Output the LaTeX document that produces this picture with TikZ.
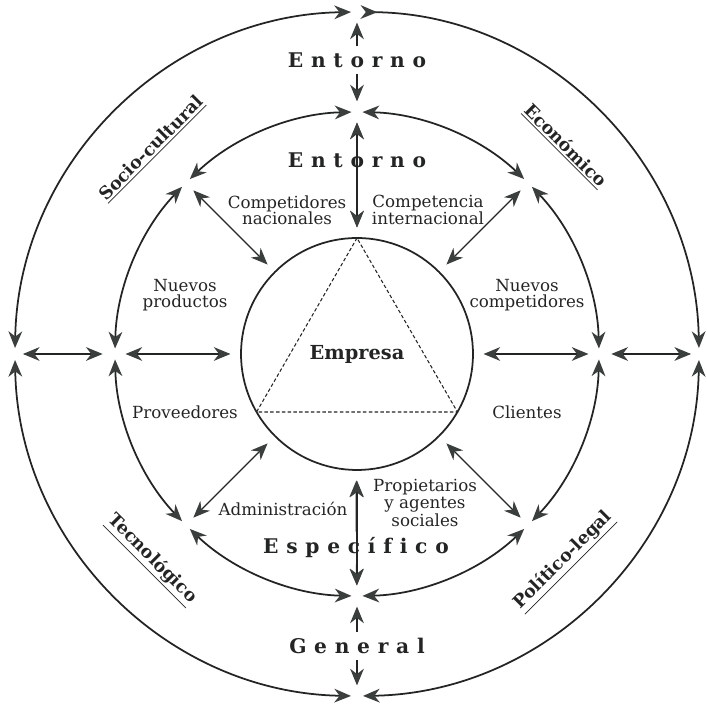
\documentclass[tikz,border=0pt]{standalone}
\usepackage{fontspec}
\setmainfont{DejaVu Serif}
\newfontfamily\widefont[WordSpace=1.1]{DejaVu Serif}
\usetikzlibrary{arrows.meta}

\definecolor{inkc}{RGB}{35,37,36}
\definecolor{tipc}{RGB}{58,62,60}

\tikzset{
  ring/.style={line width=1pt, draw=inkc},
  link/.style={line width=0.65pt, draw=inkc, shorten >=6pt},
  lbl/.style={font=\fontsize{9.5}{9.2}\selectfont, align=center, text=inkc},
  wide/.style={font=\widefont\fontsize{11.5}{13}\selectfont\bfseries, text=inkc},
  sector/.style={font=\fontsize{10}{12}\selectfont\bfseries, text=inkc}
}

\begin{document}
\begin{tikzpicture}[x=0.02cm, y=0.02cm, >={Stealth[length=9.5pt, width=7.8pt, inset=3pt, color=tipc]}]
    \useasboundingbox (-357,-351) rectangle (350,354);

    \foreach \a in {0,90,180,270} \coordinate (o\a) at (\a:342);
    \foreach \a in {0,45,...,315} \coordinate (m\a) at (\a:242);

    \draw[ring, <-{Stealth[length=9.5pt, width=7.8pt, inset=3pt, color=tipc, reversed]}] (1:342) arc[start angle=1, end angle=89.4, radius=342];
    \foreach \a in {90,180,270}
        \draw[ring, <->] (\a+1:342) arc[start angle=\a+1, end angle=\a+89, radius=342];
    \foreach \a in {0,45,...,315}
        \draw[ring, <->] (\a+1.3:242) arc[start angle=\a+1.3, end angle=\a+43.7, radius=242];

    \node[ring, circle, draw, minimum size=4.64cm, inner sep=0pt, outer sep=0pt, font=\fontsize{11}{13}\selectfont\bfseries, text=inkc] (empresa) at (0,0) {Empresa};
    \draw[inkc, line width=0.6pt, dash pattern=on 2pt off 1.3pt] (empresa.90) -- (empresa.210) -- (empresa.330) -- cycle;

    \node[wide] (entO) at (0,294) {E n t o r n o};
    \node[wide] (entI) at (0,194) {E n t o r n o};
    \node[wide] (esp) at (-1,-194) {E s p e c í f i c o};
    \node[wide] (gen) at (0,-292) {G e n e r a l};

    \node[lbl] (compN) at (-70,144) {Competidores\\nacionales};
    \node[lbl] (compI) at (71,144) {Competencia\\internacional};
    \node[lbl] (nprod) at (-172,59) {Nuevos\\productos};
    \node[lbl] (ncomp) at (170,59) {Nuevos\\competidores};
    \node[lbl] (prov) at (-172,-58) {Proveedores};
    \node[lbl] (cli) at (170,-58) {Clientes};
    \node[lbl] (admin) at (-74,-155) {Administración};
    \node[lbl] (prop) at (68,-149) {Propietarios\\y agentes\\sociales};

    \node[sector, rotate=45] (socio) at (135:290) {\underline{Socio-cultural}};
    \node[sector, rotate=-45] (econ) at (45:294) {\underline{Económico}};
    \node[sector, rotate=-45] (tecno) at (225:291) {\underline{Tecnológico}};
    \node[sector, rotate=45] (polit) at (315:293) {\underline{Político-legal}};

    \draw[link, ->] (entO) -- (o90);
    \draw[link, ->] (entO) -- (m90);
    \draw[link, ->] (entI) -- (m90);
    \draw[link, ->] (entI) -- (empresa);
    \draw[link, ->] (esp) -- (empresa);
    \draw[link, ->] (esp) -- (m270);
    \draw[link, ->] (gen) -- (m270);
    \draw[link, ->] (gen) -- (o270);

    \draw[link, <->, shorten <=4.5pt, shorten >=7pt] (o180) -- (m180);
    \draw[link, <->, shorten <=4.5pt, shorten >=7pt] (o0) -- (m0);
    \foreach \a in {0,45,...,315}
        \draw[link, <->, shorten <=6pt] (m\a) -- (empresa);
\end{tikzpicture}
\end{document}
